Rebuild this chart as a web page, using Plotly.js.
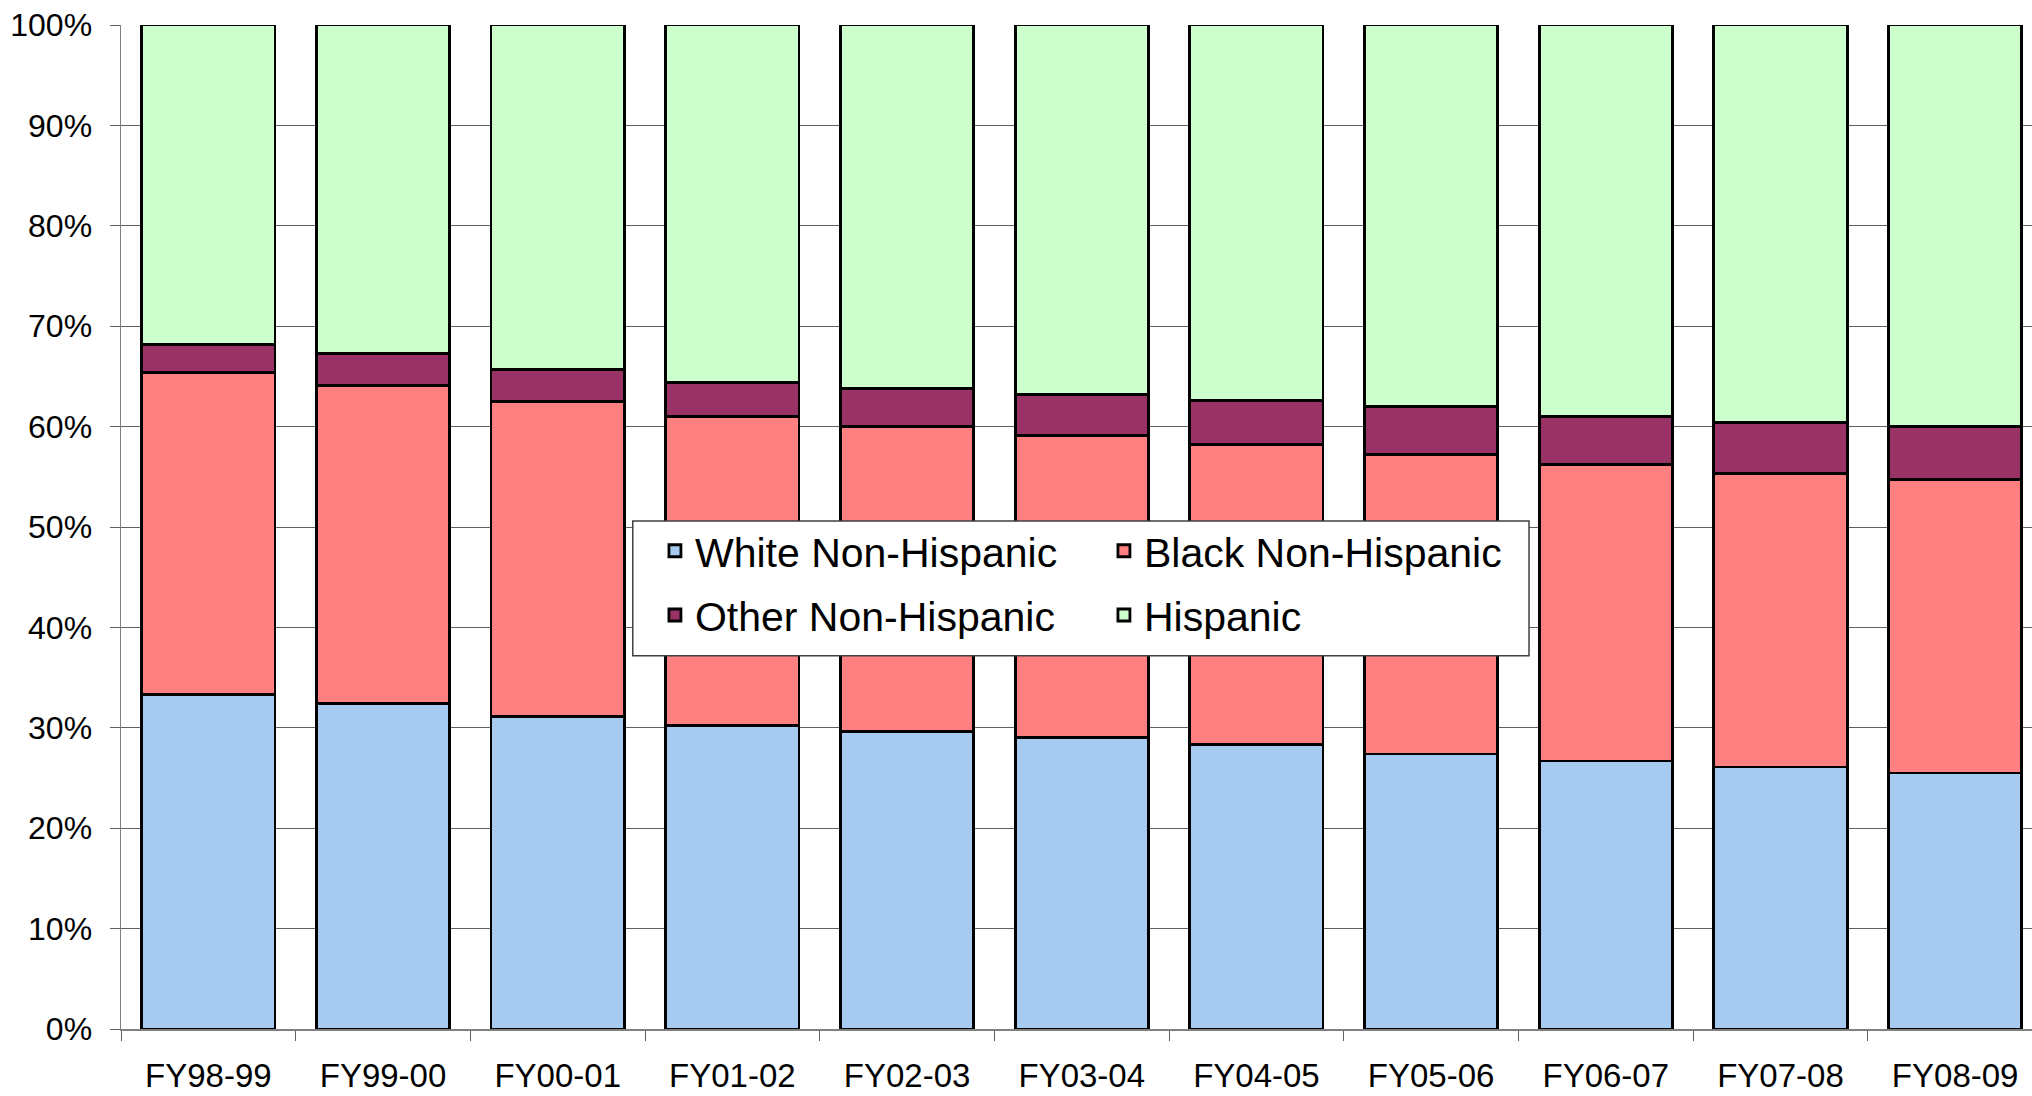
<!DOCTYPE html>
<html>
<head>
<meta charset="utf-8">
<script src="https://cdn.plot.ly/plotly-3.0.1.min.js"></script>
<style>
  html, body { margin: 0; padding: 0; background: #ffffff; }
  #chart { width: 2032px; height: 1096px; }
</style>
</head>
<body>
<div id="chart"></div>
<script>
// ---- data (percent of total) ----
const categories = ["FY98-99", "FY99-00", "FY00-01", "FY01-02", "FY02-03", "FY03-04",
                    "FY04-05", "FY05-06", "FY06-07", "FY07-08", "FY08-09"];
const whiteNonHispanic = [33.3, 32.4, 31.1, 30.2, 29.6, 29.0, 28.3, 27.4, 26.7, 26.1, 25.5];
const blackNonHispanic = [32.1, 31.7, 31.4, 30.8, 30.4, 30.1, 29.9, 29.8, 29.5, 29.2, 29.2];
const otherNonHispanic = [2.8, 3.2, 3.2, 3.4, 3.8, 4.1, 4.4, 4.8, 4.8, 5.1, 5.3];
const hispanic = [31.8, 32.7, 34.3, 35.6, 36.2, 36.8, 37.4, 38.0, 39.0, 39.6, 40.0];

const seriesNames = ["White Non-Hispanic", "Black Non-Hispanic", "Other Non-Hispanic", "Hispanic"];
const seriesColors = ["#A6CAF0", "#FF8080", "#993366", "#CCFFCC"];
const seriesValues = [whiteNonHispanic, blackNonHispanic, otherNonHispanic, hispanic];
const seriesLegend = ["legend", "legend", "legend2", "legend2"];

const FONT = "Liberation Sans, Arial, Helvetica, sans-serif";

const traces = seriesNames.map((name, i) => ({
  type: "bar",
  name: name,
  x: categories,
  y: seriesValues[i],
  width: 0.763,
  legend: seriesLegend[i],
  marker: { color: seriesColors[i], line: { color: "#000000", width: 2.8 } },
  hoverinfo: "skip"
}));

const layout = {
  width: 2032,
  height: 1096,
  margin: { l: 121, r: 0, t: 25, b: 67, pad: 0 },
  paper_bgcolor: "#ffffff",
  plot_bgcolor: "#ffffff",
  barmode: "stack",
  font: { family: FONT, color: "#000000", size: 32 },
  showlegend: true,
  xaxis: {
    type: "category",
    range: [-0.5, 10.44],
    tickson: "boundaries",
    ticks: "outside",
    ticklen: 10,
    tickwidth: 1,
    tickcolor: "#606060",
    ticklabelstandoff: 17,
    showline: true,
    linecolor: "#808080",
    linewidth: 1.5,
    showgrid: false,
    zeroline: false,
    tickfont: { family: FONT, size: 33, color: "#000000" },
    fixedrange: true
  },
  yaxis: {
    range: [0, 100],
    dtick: 10,
    tick0: 0,
    ticksuffix: "%",
    ticks: "outside",
    ticklen: 10,
    tickwidth: 1,
    tickcolor: "#606060",
    ticklabelstandoff: 11,
    showline: true,
    linecolor: "#808080",
    linewidth: 1.5,
    showgrid: true,
    gridcolor: "#606060",
    gridwidth: 1,
    zeroline: false,
    tickfont: { family: FONT, size: 32, color: "#000000" },
    fixedrange: true
  },
  legend: {
    orientation: "h",
    x: 0.2794, xanchor: "left",
    y: 0.476, yanchor: "middle",
    bgcolor: "rgba(0,0,0,0)",
    borderwidth: 0,
    entrywidth: 404,
    entrywidthmode: "pixels",
    traceorder: "normal",
    font: { family: FONT, size: 41, color: "#000000" }
  },
  legend2: {
    orientation: "h",
    x: 0.2794, xanchor: "left",
    y: 0.412, yanchor: "middle",
    bgcolor: "rgba(0,0,0,0)",
    borderwidth: 0,
    entrywidth: 404,
    entrywidthmode: "pixels",
    traceorder: "normal",
    font: { family: FONT, size: 41, color: "#000000" }
  },
  shapes: [{
    type: "rect",
    xref: "paper", yref: "paper",
    x0: 0.2678, x1: 0.7368, y0: 0.3717, y1: 0.5061,
    fillcolor: "#ffffff",
    line: { color: "#404040", width: 1.5 },
    layer: "above"
  }]
};

Plotly.newPlot("chart", traces, layout, { staticPlot: true, displayModeBar: false });
</script>
</body>
</html>
